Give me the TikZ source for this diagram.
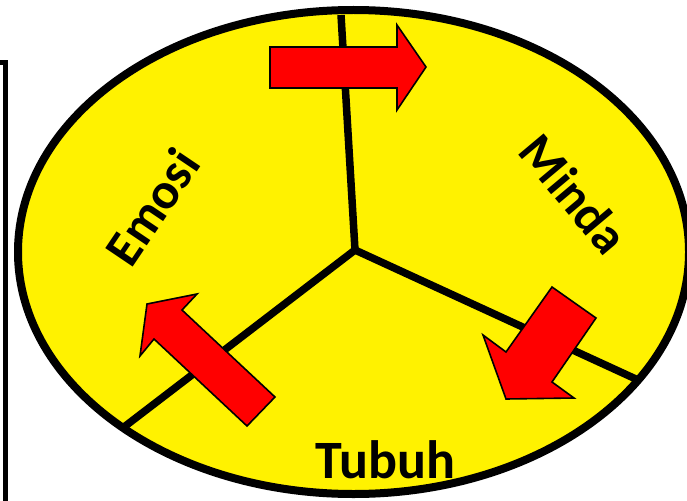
\documentclass[tikz,border=0pt]{standalone}
\usepackage{fontspec}
\setmainfont{Carlito}
\begin{document}
\begin{tikzpicture}[x=1pt,y=-1pt,
  rim/.style={line width=8pt},
  spoke/.style={line width=7.5pt, line cap=butt},
  redarrow/.style={fill=red, draw=black, line width=1.6pt, line join=miter},
  lbl/.style={font=\bfseries\fontsize{51}{60}\selectfont, inner sep=0pt},
]
\useasboundingbox (0,0) rectangle (687,500);
\fill[white] (0,0) rectangle (687,500);
% left bracket line
\coordinate (b1) at (0,62.5);
\coordinate (b2) at (5.5,62.5);
\coordinate (b3) at (5.5,503);
\draw[line width=5.5pt] (b1) -- (b2) -- (b3);
% ellipse
\draw[rim, fill=yellow] (353.5,252) ellipse [x radius=335.5, y radius=242];
% spokes
\coordinate (c) at (355,250);
\coordinate (ctop) at (341,15);
\coordinate (cright) at (638,380);
\coordinate (cleft) at (124,427);
\draw[spoke] (c) -- (ctop);
\draw[spoke] (c) -- (cright);
\draw[spoke] (c) -- (cleft);
\fill (c) circle (4.3);
% arrows
\draw[redarrow] (270,47) -- (397,47) -- (397,25) -- (426,67) -- (397,110) -- (397,88) -- (270,88) -- cycle;
\draw[redarrow] (552,287) -- (596,318) -- (552,382) -- (574,398) -- (506,399) -- (483,335) -- (506,352) -- cycle;
\draw[redarrow] (147,304) -- (197,294) -- (182,310) -- (275,397) -- (247,426) -- (154,339) -- (140,356) -- cycle;
% labels
\node[lbl, rotate=56] (emosi) at (152,207) {Emosi};
\node[lbl, rotate=-50] (minda) at (574,194) {Minda};
\node[lbl, anchor=base, font=\bfseries\fontsize{54}{60}\selectfont] (tubuh) at (385,478) {Tubuh};
\end{tikzpicture}
\end{document}
